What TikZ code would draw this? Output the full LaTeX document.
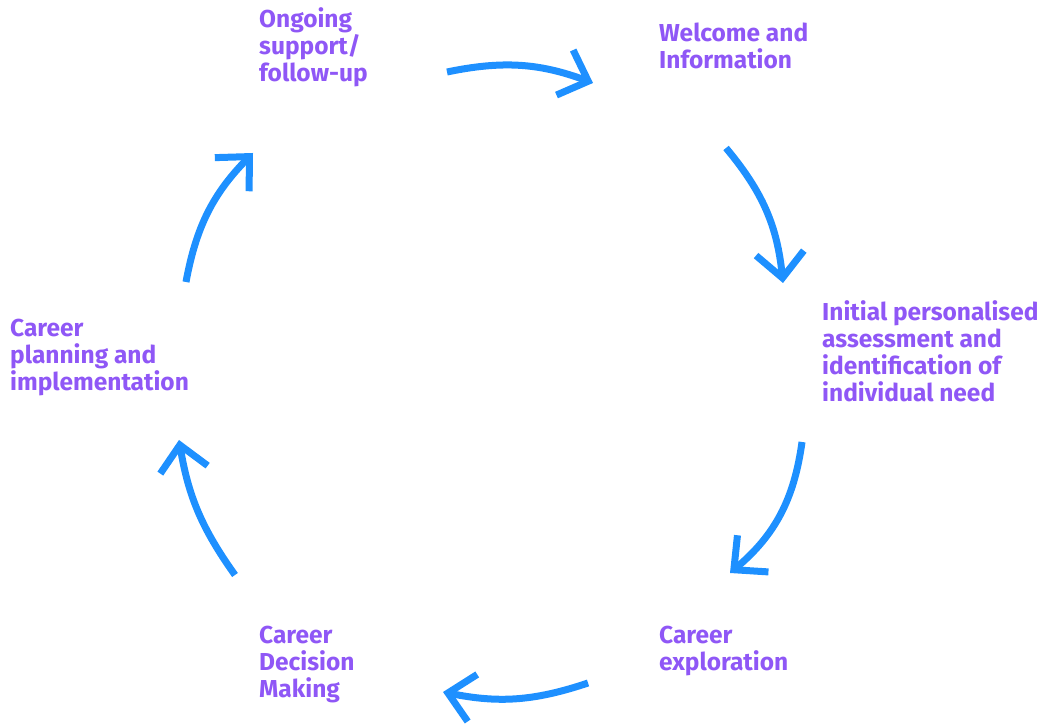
\documentclass[tikz,border=0pt]{standalone}
\usepackage{fontspec}
\setmainfont{Fira Sans}
\usetikzlibrary{arrows.meta}

\definecolor{stagepurple}{RGB}{143,87,246}
\definecolor{cycleblue}{RGB}{30,144,255}

\begin{document}
\begin{tikzpicture}[x = 1pt, y = 1pt,
    every node/.style = { align = left, anchor = base west, inner sep = 0pt,
        text = stagepurple, font = \fontsize{24.5}{27}\selectfont\bfseries },
    cycle/.style = { draw = cycleblue, line width = 7pt,
        -{Straight Barb[length = 25pt, width = 48pt]} }]
    \useasboundingbox (0,0) rectangle (1043,725);

    % the six stages (placed at the baseline of their last line)
    \node (ongoing)  at (259,643) { Ongoing \\ support/ \\ follow-up };
    \node (welcome)  at (659,656) { Welcome and \\ Information };
    \node (initial)  at (822,323) { Initial personalised \\ assessment and \\ identification of \\ individual need };
    \node (explore)  at (659,55)  { Career \\ exploration };
    \node (decision) at (259,28)  { Career \\ Decision \\ Making };
    \node (planning) at (10,334)  { Career \\ planning and \\ implementation };

    % arrow ends
    \coordinate (s1) at (447,653); \coordinate (t1) at (593,642);
    \coordinate (s2) at (726,577); \coordinate (t2) at (783,442);
    \coordinate (s3) at (802,283); \coordinate (t3) at (730,152);
    \coordinate (s4) at (588,42);  \coordinate (t4) at (443,33);
    \coordinate (s5) at (235,150); \coordinate (t5) at (179,285);
    \coordinate (s6) at (186,443); \coordinate (t6) at (253,572);

    \draw [cycle] (s1) to [bend left = 16] (t1);
    \draw [cycle] (s2) to [bend left = 17] (t2);
    \draw [cycle] (s3) to [bend left = 21] (t3);
    \draw [cycle] (s4) to [bend left = 15] (t4);
    \draw [cycle] (s5) to [bend left = 13] (t5);
    \draw [cycle] (s6) to [bend left = 17] (t6);
\end{tikzpicture}
\end{document}
